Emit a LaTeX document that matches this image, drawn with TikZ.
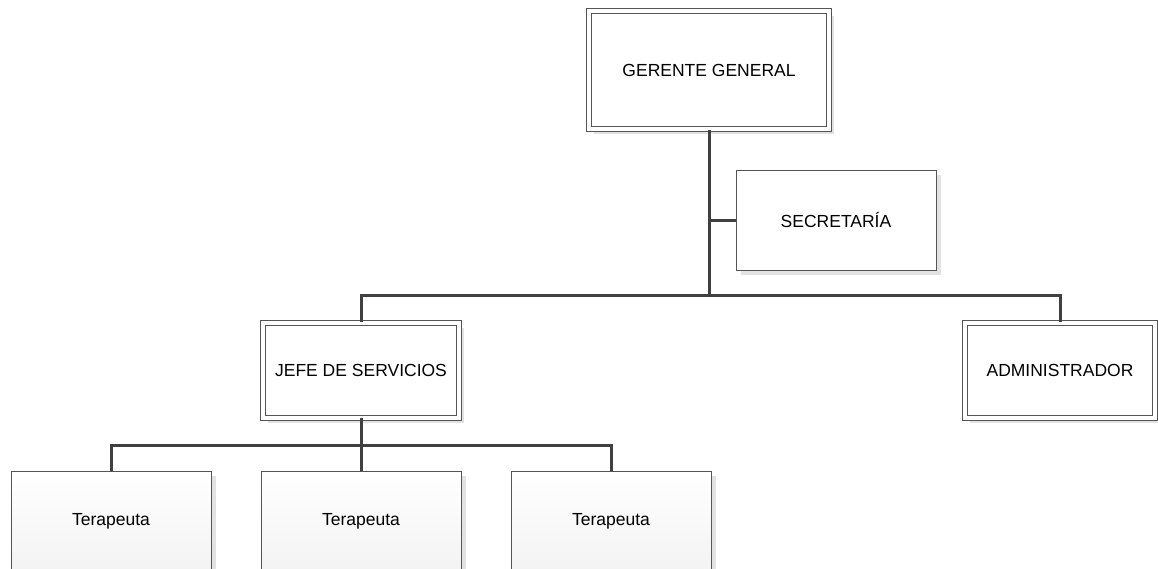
\documentclass[tikz,border=0pt]{standalone}
\usepackage{fontspec}
\setmainfont{Liberation Sans}
\usepackage{tikz}
\usetikzlibrary{positioning,calc,shadows}
\definecolor{Line}{HTML}{404040}
\definecolor{Border}{HTML}{555555}
\definecolor{Shade}{HTML}{E2E2E2}
\definecolor{Fade}{HTML}{F3F3F3}

\begin{document}
\begin{tikzpicture}[
	x=1pt,y=-1pt,
	node distance=49pt,
	mainbox/.style={
		draw=Border,
		double=white,
		double distance=4pt,
		line width=1pt,
		fill=white,
		drop shadow={shadow xshift=5pt,shadow yshift=-5pt,fill=Shade,opacity=1},
		align=center,
		font=\fontsize{17.5}{21}\selectfont
	},
	subbox/.style={
		draw=Border,
		line width=1pt,
		fill=white,
		drop shadow={shadow xshift=5pt,shadow yshift=-5pt,fill=Shade,opacity=1},
		minimum width=200pt,
		minimum height=100pt,
		align=center,
		font=\fontsize{17.5}{21}\selectfont
	},
	terbox/.style={
		subbox,
		top color=white,
		middle color=white,
		bottom color=Fade
	},
	conn/.style={
		draw=Line,
		line width=3pt
	}
	]
	
	\useasboundingbox (0,0) rectangle (1158,568);
	\clip (0,0) rectangle (1158,568);
	
	% ---------------------------------------------------------
	% TOP
	% ---------------------------------------------------------
	
	\node[
	mainbox,
	minimum width=240pt,
	minimum height=118pt
	]
	(gerente) at (709,70)
	{GERENTE GENERAL};
	
	\node[
	subbox
	]
	(secretaria) at (836,220)
	{SECRETARÍA};
	
	% ---------------------------------------------------------
	% SECOND LEVEL
	% ---------------------------------------------------------
	
	\node[
	mainbox,
	minimum width=196pt,
	minimum height=95pt
	]
	(jefe) at (361,370)
	{JEFE DE SERVICIOS};
	
	\node[
	mainbox,
	minimum width=190pt,
	minimum height=95pt
	]
	(admin) at (1060,370)
	{ADMINISTRADOR};
	
	% ---------------------------------------------------------
	% THIRD LEVEL
	% ---------------------------------------------------------
	
	\node[
	terbox
	]
	(terA) at (111,521)
	{Terapeuta};
	
	\node[
	terbox,
	right=of terA
	]
	(terB)
	{Terapeuta};
	
	\node[
	terbox,
	right=of terB
	]
	(terC)
	{Terapeuta};
	
	% ---------------------------------------------------------
	% CONNECTORS
	% ---------------------------------------------------------
	
	\coordinate (topbus) at (709,295);
	\coordinate (lowbus) at (361,445);
	
	\draw[conn]
	(gerente) -- (topbus);
	
	\draw[conn]
	(secretaria.west) -- (secretaria.west -| gerente.south);
	
	\draw[conn]
	(jefe.north) |- (topbus) -| (admin.north);
	
	\draw[conn]
	(jefe.south) -- (terB.north);
	
	\draw[conn]
	(terA.north) |- (lowbus) -| (terC.north);
	
\end{tikzpicture}
\end{document}
